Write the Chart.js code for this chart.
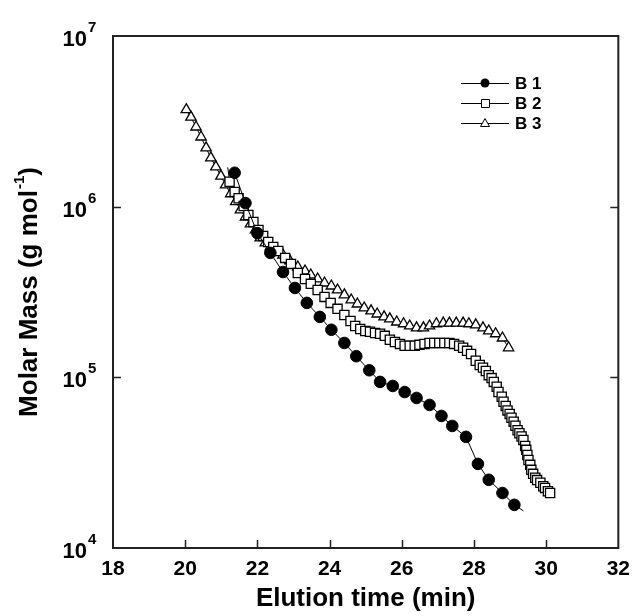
<!DOCTYPE html>
<html>
<head>
<meta charset="utf-8">
<script src="https://cdn.jsdelivr.net/npm/chart.js@4.4.1/dist/chart.umd.min.js"></script>
<style>
  body { margin: 0; background: #fff; }
  #wrap { width: 639px; height: 616px; }
</style>
</head>
<body>
<div id="wrap"><canvas id="molarChart" width="639" height="616"></canvas></div>
<script>
// values (time in min, molar mass in g/mol)
var seriesNames = ["B 1", "B 2", "B 3"];

var b1Time = [21.37, 21.67, 22.00, 22.36, 22.71, 23.04, 23.37, 23.73, 24.05, 24.41, 24.74, 25.10, 25.40, 25.75, 26.08, 26.41, 26.77, 27.10, 27.40, 27.78, 28.11, 28.41, 28.79, 29.12, 29.37];
var b1Mass = [1.58e6, 1.05e6, 7.0e5, 5.36e5, 4.14e5, 3.34e5, 2.73e5, 2.26e5, 1.90e5, 1.59e5, 1.33e5, 1.10e5, 9.4e4, 8.9e4, 8.2e4, 7.57e4, 6.89e4, 5.94e4, 5.19e4, 4.48e4, 3.11e4, 2.51e4, 2.10e4, 1.79e4, 1.65e4];

var b2Time = [21.18, 21.23, 21.37, 21.48, 21.62, 21.75, 21.89, 22.03, 22.16, 22.30, 22.44, 22.58, 22.77, 22.93, 23.12, 23.32, 23.48, 23.67, 23.86, 24.03, 24.22, 24.41, 24.58, 24.71, 24.85, 24.99, 25.12, 25.26, 25.40, 25.53, 25.67, 25.81, 25.95, 26.08, 26.22, 26.36, 26.49, 26.63, 26.77, 26.90, 27.04, 27.18, 27.32, 27.45, 27.59, 27.70, 27.81, 27.92, 28.05, 28.16, 28.25, 28.33, 28.41, 28.49, 28.55, 28.63, 28.68, 28.77, 28.82, 28.88, 28.93, 28.99, 29.04, 29.10, 29.15, 29.21, 29.26, 29.32, 29.37, 29.42, 29.45, 29.48, 29.51, 29.56, 29.59, 29.64, 29.70, 29.75, 29.84, 29.92, 29.97, 30.05, 30.11];
var b2Mass = [1.7e6, 1.4e6, 1.22e6, 1.12e6, 1.01e6, 8.94e5, 8.13e5, 7.31e5, 6.74e5, 6.21e5, 5.81e5, 5.5e5, 5.01e5, 4.62e5, 4.09e5, 3.77e5, 3.53e5, 3.25e5, 2.96e5, 2.73e5, 2.52e5, 2.32e5, 2.14e5, 2.0e5, 1.92e5, 1.87e5, 1.85e5, 1.82e5, 1.8e5, 1.75e5, 1.66e5, 1.61e5, 1.57e5, 1.53e5, 1.53e5, 1.53e5, 1.55e5, 1.57e5, 1.59e5, 1.59e5, 1.59e5, 1.59e5, 1.59e5, 1.57e5, 1.53e5, 1.49e5, 1.43e5, 1.37e5, 1.25e5, 1.18e5, 1.14e5, 1.09e5, 1.03e5, 9.9e4, 9.4e4, 8.8e4, 8.2e4, 7.7e4, 7.2e4, 6.8e4, 6.4e4, 6.1e4, 5.8e4, 5.5e4, 5.2e4, 4.9e4, 4.7e4, 4.5e4, 4.3e4, 3.96e4, 3.76e4, 3.51e4, 3.28e4, 3.07e4, 2.87e4, 2.72e4, 2.58e4, 2.5e4, 2.41e4, 2.3e4, 2.25e4, 2.15e4, 2.1e4];

var b3Time = [20.03, 20.16, 20.30, 20.44, 20.58, 20.71, 20.85, 20.99, 21.12, 21.26, 21.40, 21.53, 21.67, 21.81, 21.95, 22.08, 22.22, 22.36, 22.52, 22.71, 22.90, 23.12, 23.32, 23.48, 23.67, 23.86, 24.05, 24.22, 24.41, 24.60, 24.77, 24.96, 25.15, 25.32, 25.51, 25.67, 25.86, 26.05, 26.22, 26.41, 26.60, 26.77, 26.96, 27.15, 27.32, 27.51, 27.70, 27.86, 28.05, 28.25, 28.41, 28.60, 28.79, 28.96];
var b3Mass = [3.7e6, 3.35e6, 2.93e6, 2.56e6, 2.21e6, 1.93e6, 1.71e6, 1.51e6, 1.34e6, 1.19e6, 1.07e6, 9.57e5, 8.7e5, 7.92e5, 7.31e5, 6.56e5, 6.13e5, 5.81e5, 5.5e5, 5.21e5, 4.81e5, 4.43e5, 4.2e5, 3.98e5, 3.77e5, 3.57e5, 3.43e5, 3.25e5, 3.04e5, 2.84e5, 2.69e5, 2.55e5, 2.45e5, 2.35e5, 2.26e5, 2.2e5, 2.11e5, 2.06e5, 2.0e5, 1.95e5, 1.95e5, 2.0e5, 2.06e5, 2.08e5, 2.08e5, 2.08e5, 2.08e5, 2.06e5, 2.03e5, 1.95e5, 1.87e5, 1.8e5, 1.7e5, 1.49e5];

var xTickValues = [18, 20, 22, 24, 26, 28, 30, 32];
var yTickValues = [1e4, 1e5, 1e6, 1e7];

var FONT = "'Liberation Sans', Arial, Helvetica, sans-serif";

function toPoints(xs, ys) {
    var pts = [];
    for (var i = 0; i < xs.length; i++) {
        pts.push({ x: xs[i], y: ys[i] });
    }
    return pts;
}

// frame, inward ticks, y labels with exponents, y title, legend
var decorPlugin = {
    id: "decor",
    afterDraw: function (chart) {
        var ctx = chart.ctx;
        var a = chart.chartArea;
        var xs = chart.scales.x, ys = chart.scales.y;
        ctx.save();

        // box
        ctx.strokeStyle = "#222";
        ctx.lineWidth = 2;
        ctx.strokeRect(a.left, a.top, a.right - a.left, a.bottom - a.top);

        // inward ticks
        ctx.lineWidth = 1.5;
        ctx.beginPath();
        xTickValues.forEach(function (v) {
            var px = Math.round(xs.getPixelForValue(v)) + 0.5;
            if (px <= a.left + 1 || px >= a.right - 1) return;
            ctx.moveTo(px, a.bottom);
            ctx.lineTo(px, a.bottom - 8);
        });
        yTickValues.forEach(function (v) {
            var py = Math.round(ys.getPixelForValue(v)) + 0.5;
            if (py <= a.top + 1 || py >= a.bottom - 1) return;
            ctx.moveTo(a.left, py);
            ctx.lineTo(a.left + 8, py);
            ctx.moveTo(a.right, py);
            ctx.lineTo(a.right - 8, py);
        });
        ctx.stroke();

        // y tick labels 10^n
        ctx.fillStyle = "#000";
        yTickValues.forEach(function (v) {
            var py = ys.getPixelForValue(v);
            var ex = Math.round(Math.log10(v));
            ctx.font = "bold 22px " + FONT;
            ctx.textAlign = "right";
            ctx.textBaseline = "middle";
            ctx.fillText("10", a.left - 26, py + 4);
            ctx.font = "bold 15px " + FONT;
            ctx.textAlign = "left";
            ctx.fillText(String(ex), a.left - 25, py - 8);
        });

        // y title with superscript
        ctx.save();
        ctx.translate(30, (a.top + a.bottom) / 2);
        ctx.rotate(-Math.PI / 2);
        var mainFont = "bold 26px " + FONT, supFont = "bold 15px " + FONT;
        ctx.font = mainFont;
        var w1 = ctx.measureText("Molar Mass (g mol").width;
        var w3 = ctx.measureText(")").width;
        ctx.font = supFont;
        var w2 = ctx.measureText("-1").width + 1;
        var x0 = -(w1 + w2 + w3) / 2;
        ctx.textAlign = "left";
        ctx.textBaseline = "middle";
        ctx.font = mainFont;
        ctx.fillText("Molar Mass (g mol", x0, 0);
        ctx.font = supFont;
        ctx.fillText("-1", x0 + w1 + 1, -10);
        ctx.font = mainFont;
        ctx.fillText(")", x0 + w1 + w2, 0);
        ctx.restore();

        // legend
        var rowY = [83, 103, 123];
        chart.data.datasets.forEach(function (ds, i) {
            var y = rowY[i];
            ctx.strokeStyle = "#000";
            ctx.lineWidth = 1;
            ctx.beginPath();
            ctx.moveTo(461, y + 0.5);
            ctx.lineTo(509, y + 0.5);
            ctx.stroke();
            ctx.beginPath();
            if (ds.pointStyle === "circle") {
                ctx.arc(485, y, 4.5, 0, Math.PI * 2);
                ctx.fillStyle = "#000";
                ctx.fill();
            } else if (ds.pointStyle === "rect") {
                ctx.rect(481.5, y - 3.5, 8, 8);
                ctx.fillStyle = "#fff";
                ctx.fill();
                ctx.stroke();
            } else {
                ctx.moveTo(485, y - 4.5);
                ctx.lineTo(489.5, y + 3.5);
                ctx.lineTo(480.5, y + 3.5);
                ctx.closePath();
                ctx.fillStyle = "#fff";
                ctx.fill();
                ctx.stroke();
            }
            ctx.fillStyle = "#000";
            ctx.font = "bold 17px " + FONT;
            ctx.textAlign = "left";
            ctx.textBaseline = "middle";
            ctx.fillText(ds.label, 515, y + 1);
        });

        ctx.restore();
    }
};

var datasets = [
    {
        label: seriesNames[0],
        data: toPoints(b1Time, b1Mass),
        showLine: true,
        borderColor: "#000",
        borderWidth: 1,
        pointStyle: "circle",
        pointRadius: function (c) { return c.dataIndex === b1Time.length - 1 ? 0 : 5.8; },
        pointBackgroundColor: "#000",
        pointBorderColor: "#000",
        pointBorderWidth: 1
    },
    {
        label: seriesNames[1],
        data: toPoints(b2Time, b2Mass),
        showLine: true,
        borderColor: "#000",
        borderWidth: 1,
        pointStyle: "rect",
        pointRadius: function (c) { return c.dataIndex === 0 ? 0 : 6.5; },
        pointBackgroundColor: "#fff",
        pointBorderColor: "#000",
        pointBorderWidth: 1.3
    },
    {
        label: seriesNames[2],
        data: toPoints(b3Time, b3Mass),
        showLine: true,
        borderColor: "#000",
        borderWidth: 1,
        pointStyle: "triangle",
        pointRadius: 6,
        pointBackgroundColor: "#fff",
        pointBorderColor: "#000",
        pointBorderWidth: 1.3
    }
];

var myChart = new Chart(document.getElementById("molarChart").getContext("2d"), {
    type: "scatter",
    data: { datasets: datasets },
    options: {
        responsive: false,
        animation: false,
        layout: { padding: { top: 36, right: 15, bottom: 0, left: 0 } },
        plugins: {
            legend: { display: false },
            tooltip: { enabled: false }
        },
        scales: {
            x: {
                type: "linear",
                min: 18,
                max: 32,
                grid: { display: false, drawTicks: false },
                border: { display: false },
                afterFit: function (s) { s.height = 68; },
                afterBuildTicks: function (s) {
                    s.ticks = xTickValues.map(function (v) { return { value: v }; });
                },
                ticks: {
                    color: "#000",
                    padding: 9,
                    maxRotation: 0,
                    autoSkip: false,
                    font: { family: FONT, size: 21, weight: "bold" }
                },
                title: {
                    display: true,
                    text: "Elution time (min)",
                    color: "#000",
                    padding: { top: 0, bottom: 2 },
                    font: { family: FONT, size: 26, weight: "bold" }
                }
            },
            y: {
                type: "logarithmic",
                min: 1e4,
                max: 1e7,
                grid: { display: false, drawTicks: false },
                border: { display: false },
                ticks: { display: false },
                afterFit: function (s) { s.width = 113; }
            }
        }
    },
    plugins: [decorPlugin]
});
</script>
</body>
</html>
